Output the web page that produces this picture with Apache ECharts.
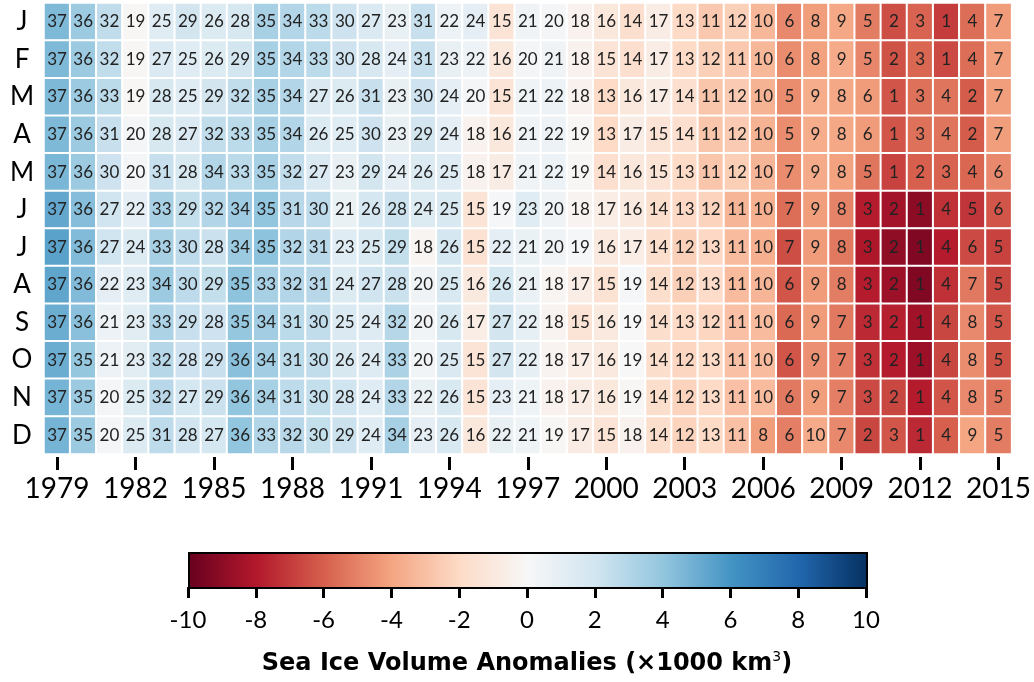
<!DOCTYPE html>
<html><head><meta charset="utf-8">
<script src="https://cdn.jsdelivr.net/npm/echarts@6/dist/echarts.min.js"></script>
<style>html,body{margin:0;padding:0;background:#fff}#c{width:1034px;height:682px}</style>
</head><body><div id="c"></div>
<script>
const years = ['1979','1980','1981','1982','1983','1984','1985','1986','1987','1988','1989','1990','1991','1992','1993','1994','1995','1996','1997','1998','1999','2000','2001','2002','2003','2004','2005','2006','2007','2008','2009','2010','2011','2012','2013','2014','2015'];
const months = ['Jan','Feb','Mar','Apr','May','Jun','Jul','Aug','Sep','Oct','Nov','Dec'];
const colorbarTicks = [-10,-8,-6,-4,-2,0,2,4,6,8,10];

// Rank labels (1 = lowest volume) per month, 1979..2015
const rankJan = [37,36,32,19,25,29,26,28,35,34,33,30,27,23,31,22,24,15,21,20,18,16,14,17,13,11,12,10,6,8,9,5,2,3,1,4,7];
const rankFeb = [37,36,32,19,27,25,26,29,35,34,33,30,28,24,31,23,22,16,20,21,18,15,14,17,13,12,11,10,6,8,9,5,2,3,1,4,7];
const rankMar = [37,36,33,19,28,25,29,32,35,34,27,26,31,23,30,24,20,15,21,22,18,13,16,17,14,11,12,10,5,9,8,6,1,3,4,2,7];
const rankApr = [37,36,31,20,28,27,32,33,35,34,26,25,30,23,29,24,18,16,21,22,19,13,17,15,14,11,12,10,5,9,8,6,1,3,4,2,7];
const rankMay = [37,36,30,20,31,28,34,33,35,32,27,23,29,24,26,25,18,17,21,22,19,14,16,15,13,11,12,10,7,9,8,5,1,2,3,4,6];
const rankJun = [37,36,27,22,33,29,32,34,35,31,30,21,26,28,24,25,15,19,23,20,18,17,16,14,13,12,11,10,7,9,8,3,2,1,4,5,6];
const rankJul = [37,36,27,24,33,30,28,34,35,32,31,23,25,29,18,26,15,22,21,20,19,16,17,14,12,13,11,10,7,9,8,3,2,1,4,6,5];
const rankAug = [37,36,22,23,34,30,29,35,33,32,31,24,27,28,20,25,16,26,21,18,17,15,19,14,12,13,11,10,6,9,8,3,2,1,4,7,5];
const rankSep = [37,36,21,23,33,29,28,35,34,31,30,25,24,32,20,26,17,27,22,18,15,16,19,14,13,12,11,10,6,9,7,3,2,1,4,8,5];
const rankOct = [37,35,21,23,32,28,29,36,34,31,30,26,24,33,20,25,15,27,22,18,17,16,19,14,12,13,11,10,6,9,7,3,2,1,4,8,5];
const rankNov = [37,35,20,25,32,27,29,36,34,31,30,28,24,33,22,26,15,23,21,18,17,16,19,14,12,13,11,10,6,9,7,3,2,1,4,8,5];
const rankDec = [37,35,20,25,31,28,27,36,33,32,30,29,24,34,23,26,16,22,21,19,17,15,18,14,12,13,11,8,6,10,7,2,3,1,4,9,5];

// Anomalies (x1000 km3) per month, 1979..2015
const anomJan = [4.5,3.7,2.5,-0.1,1.2,1.9,1.4,1.7,3.3,3.0,2.7,2.1,1.5,0.8,2.3,0.6,1.0,-1.4,0.4,0.2,-0.4,-1.1,-1.7,-0.8,-2.0,-2.7,-2.4,-3.3,-4.8,-4.2,-3.9,-5.2,-6.5,-5.9,-7.0,-5.6,-4.3];
const anomFeb = [4.5,3.7,2.5,-0.1,1.5,1.2,1.4,1.9,3.3,3.0,2.7,2.1,1.7,1.0,2.3,0.8,0.6,-1.1,0.2,0.4,-0.4,-1.4,-1.7,-0.8,-2.0,-2.4,-2.7,-3.3,-4.7,-4.1,-3.8,-4.9,-6.4,-5.8,-6.6,-5.6,-4.2];
const anomMar = [4.5,3.7,2.7,-0.1,1.7,1.2,1.9,2.5,3.3,3.0,1.5,1.4,2.3,0.8,2.1,1.0,0.2,-1.4,0.4,0.6,-0.4,-2.0,-1.1,-0.8,-1.7,-2.8,-2.6,-3.5,-4.7,-3.7,-3.9,-4.3,-6.3,-5.5,-5.4,-6.1,-4.2];
const anomApr = [4.5,3.7,2.3,0.2,1.7,1.5,2.5,2.7,3.3,3.0,1.4,1.2,2.1,0.8,1.9,1.0,-0.4,-1.1,0.4,0.6,-0.1,-2.0,-0.8,-1.4,-1.7,-2.8,-2.6,-3.5,-4.7,-3.7,-3.9,-4.3,-6.3,-5.5,-5.4,-6.1,-4.2];
const anomMay = [4.6,3.7,2.1,0.2,2.3,1.7,3.0,2.7,3.3,2.5,1.5,0.8,1.9,1.0,1.4,1.2,-0.4,-0.8,0.4,0.6,-0.1,-1.7,-1.1,-1.4,-2.0,-2.8,-2.5,-3.4,-4.7,-3.8,-4.1,-5.4,-6.8,-6.0,-5.9,-5.8,-4.8];
const anomJun = [5.2,4.3,2.0,1.0,3.3,2.4,3.0,3.6,4.0,2.8,2.6,0.7,1.8,2.2,1.4,1.6,-1.4,0.1,1.2,0.4,-0.3,-0.7,-1.0,-1.8,-2.1,-2.3,-3.4,-3.6,-5.6,-4.2,-5.0,-7.9,-8.4,-9.0,-7.3,-7.2,-6.3];
const anomJul = [5.4,4.4,2.0,1.4,3.3,2.6,2.2,3.7,4.1,3.0,2.8,1.2,1.6,2.4,-0.2,1.8,-1.5,1.0,0.7,0.4,0.1,-1.0,-0.7,-1.8,-2.4,-2.1,-3.2,-3.6,-6.5,-4.3,-5.3,-8.1,-8.9,-9.3,-7.9,-6.6,-6.8];
const anomAug = [5.3,4.4,1.0,1.2,3.7,2.6,2.4,4.1,3.3,3.0,2.8,1.4,2.0,2.2,0.4,1.6,-1.0,1.8,0.7,-0.2,-0.7,-1.5,0.1,-1.8,-2.4,-1.9,-3.2,-3.4,-6.3,-4.3,-5.2,-7.9,-8.6,-9.3,-7.3,-5.3,-6.7];
const anomSep = [5.0,4.2,0.6,1.1,3.2,2.3,2.1,3.9,3.5,2.7,2.5,1.5,1.3,2.9,0.3,1.7,-0.7,1.9,0.9,-0.3,-1.4,-1.0,0.0,-1.8,-2.0,-2.2,-3.0,-3.2,-5.7,-4.3,-5.3,-7.5,-7.8,-8.5,-6.7,-4.8,-6.3];
const anomOct = [5.0,3.9,0.6,1.1,2.9,2.1,2.3,4.2,3.5,2.7,2.5,1.7,1.3,3.2,0.3,1.5,-1.4,1.9,0.9,-0.3,-0.7,-1.0,0.0,-1.8,-2.2,-2.0,-3.0,-3.2,-6.3,-4.6,-5.1,-7.3,-7.9,-8.6,-6.7,-4.7,-6.4];
const anomNov = [4.7,3.7,0.2,1.4,2.8,1.8,2.2,4.0,3.3,2.6,2.4,2.0,1.2,3.0,0.8,1.6,-1.4,1.0,0.5,-0.4,-0.8,-1.1,-0.1,-1.8,-2.3,-2.0,-3.0,-3.2,-5.3,-4.2,-5.1,-6.6,-6.7,-7.9,-6.3,-4.8,-5.4];
const anomDec = [4.7,3.7,0.2,1.4,2.6,2.0,1.8,4.0,3.0,2.8,2.4,2.2,1.2,3.3,1.0,1.6,-1.1,0.8,0.5,-0.1,-0.8,-1.4,-0.4,-1.8,-2.3,-2.0,-3.0,-4.2,-5.1,-3.8,-4.8,-6.7,-6.3,-7.5,-6.0,-4.0,-5.2];

const rankRows = [rankJan,rankFeb,rankMar,rankApr,rankMay,rankJun,rankJul,rankAug,rankSep,rankOct,rankNov,rankDec];
const anomRows = [anomJan,anomFeb,anomMar,anomApr,anomMay,anomJun,anomJul,anomAug,anomSep,anomOct,anomNov,anomDec];

const RdBu = ['#67001f','#b2182b','#d6604d','#f4a582','#fddbc7','#f7f7f7','#d1e5f0','#92c5de','#4393c3','#2166ac','#053061'];
const FONT = 'Lato, "DejaVu Sans", sans-serif';

const data = [];
anomRows.forEach((row, m) => row.forEach((v, y) => data.push([y, m, v, rankRows[m][y]])));

const chart = echarts.init(document.getElementById('c'), null, {renderer: 'canvas'});
chart.setOption({
  animation: false,
  backgroundColor: '#fff',
  grid: [
    {left: 44, top: 3, width: 969, height: 451},
    {left: 188, top: 552, width: 678, height: 35}
  ],
  xAxis: [
    {type: 'category', data: years, gridIndex: 0, offset: 3,
     axisLine: {show: false},
     axisTick: {show: true, interval: 2, alignWithLabel: true, length: 13, lineStyle: {color: '#000', width: 3}},
     axisLabel: {interval: 2, fontSize: 28, color: '#000', margin: 18, fontFamily: FONT},
     splitLine: {show: false}},
    {type: 'value', gridIndex: 1, min: -10, max: 10, interval: 2,
     axisLine: {show: false},
     axisTick: {show: true, length: 11, lineStyle: {color: '#000', width: 3}},
     axisLabel: {fontSize: 24, color: '#000', margin: 21, fontFamily: FONT},
     splitLine: {show: false}}
  ],
  yAxis: [
    {type: 'category', data: months, gridIndex: 0, inverse: true,
     axisLine: {show: false}, axisTick: {show: false},
     axisLabel: {fontSize: 26, color: '#000', margin: 22, align: 'center', fontFamily: FONT, formatter: v => v[0]},
     splitLine: {show: false}},
    {type: 'value', gridIndex: 1, show: false, min: 0, max: 1}
  ],
  visualMap: {
    type: 'continuous', show: false, min: -10, max: 10, dimension: 2, seriesIndex: 0,
    inRange: {color: RdBu}
  },
  series: [{
    type: 'heatmap', xAxisIndex: 0, yAxisIndex: 0, data: data,
    itemStyle: {borderColor: '#fff', borderWidth: 2},
    label: {show: true, fontSize: 17, color: '#222', fontFamily: FONT, formatter: p => String(p.data[3])},
    emphasis: {disabled: true}
  }],
  graphic: [
    {type: 'rect', left: 188, top: 552, z: 10,
     shape: {width: 678, height: 35},
     style: {fill: new echarts.graphic.LinearGradient(0, 0, 1, 0, RdBu.map((c, i) => ({offset: i / (RdBu.length - 1), color: c}))),
             stroke: '#000', lineWidth: 2}},
    {type: 'text', x: 527, y: 664, z: 10,
     style: {text: '{a|Sea Ice Volume Anomalies (×1000 km}{s|3}{a|)}', align: 'center', verticalAlign: 'middle',
             rich: {a: {fontSize: 24, fontWeight: 'bold', fontFamily: '"DejaVu Sans", sans-serif', color: '#000'},
                    s: {fontSize: 14, fontFamily: '"DejaVu Sans", sans-serif', color: '#000', padding: [0, 0, 13, 0]}}}}
  ]
});
</script></body></html>
